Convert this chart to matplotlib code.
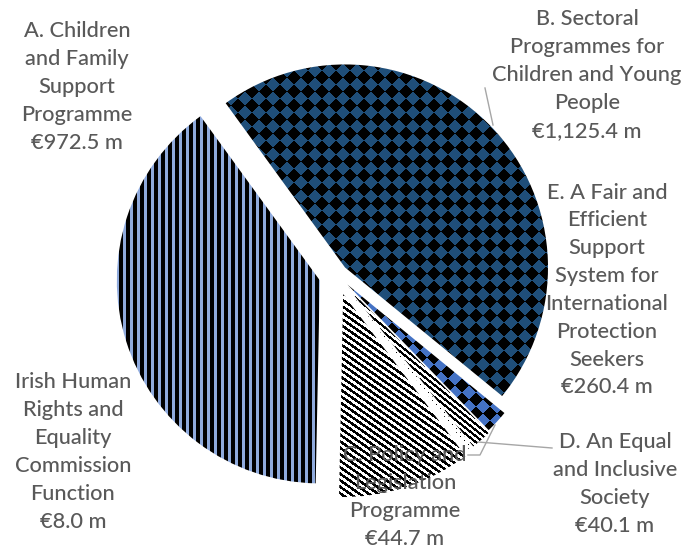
import matplotlib.pyplot as plt
import numpy as np

plt.rcParams['font.family'] = ['Lato', 'DejaVu Sans']

# programme allocations, in slice order (clockwise from B)
names = [
    "B. Sectoral\nProgrammes for\nChildren and Young\nPeople",
    "C. Policy and\nLegislation\nProgramme",
    "D. An Equal\nand Inclusive\nSociety",
    "Irish Human\nRights and\nEquality\nCommission\nFunction",
    "E. A Fair and\nEfficient\nSupport\nSystem for\nInternational\nProtection\nSeekers",
    "A. Children\nand Family\nSupport\nProgramme",
]
values = [1125.4, 44.7, 40.1, 8.0, 260.4, 972.5]

# layout in pixels (image coords, y down)
W, H = 693, 550
center = (337, 275)
radius = 203
explode = [11, 14, 16, 16, 20, 18]
label_xy = [(587, 75), (405, 497), (615, 484), (73, 452), (607, 290), (77, 87)]

yy, xx = np.mgrid[0:H, 0:W]


def two_tone(mask, c_on, c_off):
    img = np.zeros((H, W, 4))
    img[mask] = c_on
    img[~mask] = c_off
    return img


def rgba(h):
    h = h.lstrip('#')
    return [int(h[i:i + 2], 16) / 255 for i in (0, 2, 4)] + [1.0]


black = rgba('#000000')
white = rgba('#FFFFFF')


def diamonds(k):
    return ((np.floor((xx + yy) / k) + np.floor((xx - yy) / k)) % 2) == 0


patterns = [
    two_tone(diamonds(14), rgba('#1F4E79'), black),
    two_tone(diamonds(14), rgba('#4472C4'), black),
    two_tone(((yy - 0.8 * xx) % 6) < 3, black, white),
    two_tone(((xx % 4) == 0) & ((yy % 4) == 0), black, white),
    two_tone(((yy - 0.7 * xx) % 6.5) < 3.2, black, white),
    two_tone((xx % 7) < 4, black, rgba('#8FAADC')),
]

fig = plt.figure(figsize=(W / 100, H / 100), dpi=100)
ax = fig.add_axes([0, 0, 1, 1])

wedges, _ = ax.pie(values, explode=explode, radius=radius,
                   center=(center[0], H - center[1]), startangle=126,
                   counterclock=False,
                   wedgeprops=dict(facecolor='none', linewidth=0))
ax.set_xlim(0, W)
ax.set_ylim(0, H)
ax.set_aspect('equal')
ax.axis('off')

for w, pat in zip(wedges, patterns):
    im = ax.imshow(pat, extent=(0, W, 0, H), origin='upper',
                   interpolation='nearest', zorder=1)
    im.set_clip_path(w)

# leader lines
lc = '#A6A6A6'
ax.plot([485, 493], [H - 88, H - 125], color=lc, lw=1, zorder=2)
ax.plot([552, 478], [H - 448, H - 442], color=lc, lw=1, zorder=2)
ax.plot([468, 480, 495], [H - 455, H - 455, H - 425], color=lc, lw=1, zorder=2)

for name, v, (lx, ly) in zip(names, values, label_xy):
    ax.text(lx, H - ly, f"{name}\n€{v:,.1f} m", ha='center', va='center',
            multialignment='center', fontsize=15.7, color='#595959',
            fontweight='medium', linespacing=1.49, zorder=3)

ax.set_xlim(0, W)
ax.set_ylim(0, H)
fig.savefig('out.png', dpi=100)
